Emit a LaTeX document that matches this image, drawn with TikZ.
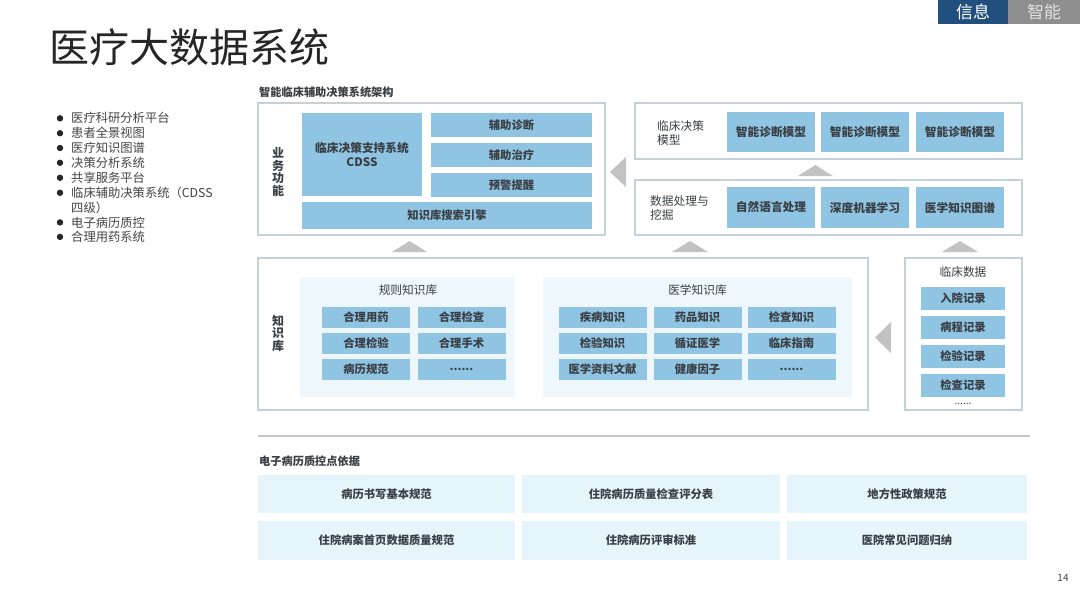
\documentclass[tikz,border=0pt]{standalone}
\usepackage{fontspec}
\setmainfont{Noto Sans CJK SC}
\usepackage{xcolor}
\usetikzlibrary{positioning}
\definecolor{cellblue}{HTML}{8FC4E3}
\definecolor{cellink}{HTML}{3A3F44}
\definecolor{framegray}{HTML}{C3D1D8}
\definecolor{panelblue}{HTML}{EDF7FC}
\definecolor{basisblue}{HTML}{E6F4FB}
\definecolor{arrowgray}{HTML}{C2C2C2}
\definecolor{badgeblue}{HTML}{22507E}
\definecolor{badgegray}{HTML}{8E8E8E}
\definecolor{listink}{HTML}{444444}
\newcommand\moredots{......}
\tikzset{
	frame/.style={draw=framegray, line width=1.5pt, fill=white, inner sep=0pt},
	cell/.style={fill=cellblue, text=cellink, inner sep=0pt, align=center,
			font=\fontsize{11.3}{13}\selectfont\bfseries,
			minimum width=88pt, minimum height=21pt},
	panel/.style={fill=panelblue, inner sep=0pt},
	basis/.style={fill=basisblue, text=cellink, inner sep=0pt,
			font=\fontsize{11.3}{13}\selectfont\bfseries,
			minimum height=38pt},
	sidelabel/.style={text=cellink, align=center, inner sep=0pt,
			font=\fontsize{12}{12.5}\selectfont\bfseries},
	plainlabel/.style={text=cellink, align=left, inner sep=0pt,
			font=\fontsize{11.7}{14}\selectfont},
	headlabel/.style={text=cellink, inner sep=0pt, anchor=west,
			font=\fontsize{11.2}{13}\selectfont\bfseries},
	pointer/.style={fill=arrowgray}
}

\begin{document}
\begin{tikzpicture}[x=1pt, y=-1pt]
	\useasboundingbox[fill=white] (0,0) rectangle (1080,608);
	% badge and title
	\fill[badgeblue] (938,0) rectangle (1008,24);
	\fill[badgegray] (1008,0) rectangle (1080,24);
	\node[text=white, font=\fontsize{17}{17}\selectfont] (badge_l) at (973,12) {信息};
	\node[text=white!88!black, font=\fontsize{17}{17}\selectfont] (badge_r) at (1044,12) {智能};
	\node[anchor=west, inner sep=0pt, text=black!85, font=\fontsize{40}{40}\selectfont] (title) at (49,47) {医疗大数据系统};
	\node[text=listink, font=\fontsize{10}{10}\selectfont] (pageno) at (1063,578) {14};
	% bullet list
	\foreach \txt/\yy/\dot in {医疗科研分析平台/118.3/1, 患者全景视图/133.2/1, 医疗知识图谱/148/1,
			决策分析系统/162.8/1, 共享服务平台/177.8/1, 临床辅助决策系统（CDSS/192.8/1,
			四级）/207.4/0, 电子病历质控/222.4/1, 合理用药系统/236.9/1} {
			\node[anchor=west, inner sep=0pt, text=listink, font=\fontsize{12.3}{14}\selectfont] at (71,\yy) {\txt};
			\ifnum\dot=1 \fill[black!85] (60,\yy) circle (3.2pt); \fi
		}
	% section headers
	\node[headlabel] (head_top) at (259,92) {智能临床辅助决策系统架构};
	\node[headlabel] (head_bot) at (259,461) {电子病历质控点依据};
	% business functions
	\node[frame, minimum width=347pt, minimum height=132pt] (biz) at (431.5,169) {};
	\node[sidelabel] (biz_lbl) at (278,172) {业\\务\\功\\能};
	\node[cell, minimum width=120pt, minimum height=83pt, font=\fontsize{11.7}{14}\selectfont\bfseries] (cdss) at (362,154.5) {临床决策支持系统\\CDSS};
	\node[cell, minimum width=161pt, minimum height=24pt] (diag) at (511.5,125) {辅助诊断};
	\node[cell, minimum width=161pt, minimum height=24pt] (treat) at (511.5,155) {辅助治疗};
	\node[cell, minimum width=161pt, minimum height=24pt] (alert) at (511.5,185) {预警提醒};
	\node[cell, minimum width=290pt, minimum height=27pt] (search) at (447,215.5) {知识库搜索引擎};
	% decision models
	\node[frame, minimum width=387pt, minimum height=56pt] (models) at (828.5,131) {};
	\node[plainlabel, anchor=west] (models_lbl) at (657,133.5) {临床决策\\模型};
	\foreach \xx/\nm in {771/m1, 865/m2, 960/m3}
		\node[cell, minimum height=40pt, font=\fontsize{11.7}{13}\selectfont\bfseries] (\nm) at (\xx,132) {智能诊断模型};
	% data processing
	\node[frame, minimum width=387pt, minimum height=55pt] (mining) at (828.5,207.5) {};
	\node[plainlabel, anchor=west] (mining_lbl) at (650,208) {数据处理与\\挖掘};
	\node[cell, minimum height=41pt, font=\fontsize{11.7}{13}\selectfont\bfseries] (nlp) at (771,207.5) {自然语言处理};
	\node[cell, minimum height=41pt, font=\fontsize{11.7}{13}\selectfont\bfseries] (deep) at (865,207.5) {深度机器学习};
	\node[cell, minimum height=41pt, font=\fontsize{11.7}{13}\selectfont\bfseries] (graph) at (960,207.5) {医学知识图谱};
	% knowledge base
	\node[frame, minimum width=610pt, minimum height=152pt] (kb) at (563,334) {};
	\node[sidelabel] (kb_lbl) at (278,333) {知\\识\\库};
	\node[panel, minimum width=215pt, minimum height=120pt] (rules) at (407.5,337) {};
	\node[panel, minimum width=309pt, minimum height=120pt] (medkb) at (697.5,337) {};
	\node[plainlabel] (rules_lbl) at (408,290) {规则知识库};
	\node[plainlabel] (medkb_lbl) at (697.5,290) {医学知识库};
	\foreach \txt/\xx/\yy in {合理用药/366/317.5, 合理检查/461.5/317.5,
			合理检验/366/343.5, 合理手术/461.5/343.5,
			病历规范/366/369.5, \moredots/461.5/369.5,
			疾病知识/602.5/317.5, 药品知识/697.5/317.5, 检查知识/791.5/317.5,
			检验知识/602.5/343.5, 循证医学/697.5/343.5, 临床指南/791.5/343.5,
			医学资料文献/602.5/369.5, 健康因子/697.5/369.5, \moredots/791.5/369.5}
		\node[cell] at (\xx,\yy) {\txt};
	% clinical data
	\node[frame, minimum width=117pt, minimum height=152pt] (clin) at (963.5,334) {};
	\node[plainlabel] (clin_lbl) at (963,272) {临床数据};
	\node[cell, minimum width=84pt, minimum height=23pt] (rec1) at (963,298.5) {入院记录};
	\node[cell, minimum width=84pt, minimum height=23pt] (rec2) at (963,327.5) {病程记录};
	\node[cell, minimum width=84pt, minimum height=23pt] (rec3) at (963,356) {检验记录};
	\node[cell, minimum width=84pt, minimum height=23pt] (rec4) at (963,385) {检查记录};
	\node[plainlabel, font=\fontsize{10}{10}\selectfont, below=6pt of rec4] (rec_more) {\moredots};
	% flow pointers
	\fill[pointer] (392,252) -- (427,252) -- (409.5,241) -- cycle;
	\fill[pointer] (672,252) -- (708,252) -- (690,241) -- cycle;
	\fill[pointer] (942,252) -- (978,252) -- (960,241) -- cycle;
	\fill[pointer] (798,176) -- (833,176) -- (815.5,165) -- cycle;
	\fill[pointer] (610,172) -- (626,157) -- (626,187) -- cycle;
	\fill[pointer] (875,337.5) -- (891,322) -- (891,353) -- cycle;
	% quality control basis
	\draw[black!22, line width=1.5pt] (258,436) -- (1030,436);
	\node[basis, minimum width=257pt] (b1) at (386.5,494) {病历书写基本规范};
	\node[basis, minimum width=258pt] (b2) at (651,494) {住院病历质量检查评分表};
	\node[basis, minimum width=240pt] (b3) at (907,494) {地方性政策规范};
	\node[basis, minimum width=257pt, minimum height=39pt] (b4) at (386.5,540.5) {住院病案首页数据质量规范};
	\node[basis, minimum width=258pt, minimum height=39pt] (b5) at (651,540.5) {住院病历评审标准};
	\node[basis, minimum width=240pt, minimum height=39pt] (b6) at (907,540.5) {医院常见问题归纳};
\end{tikzpicture}
\end{document}
